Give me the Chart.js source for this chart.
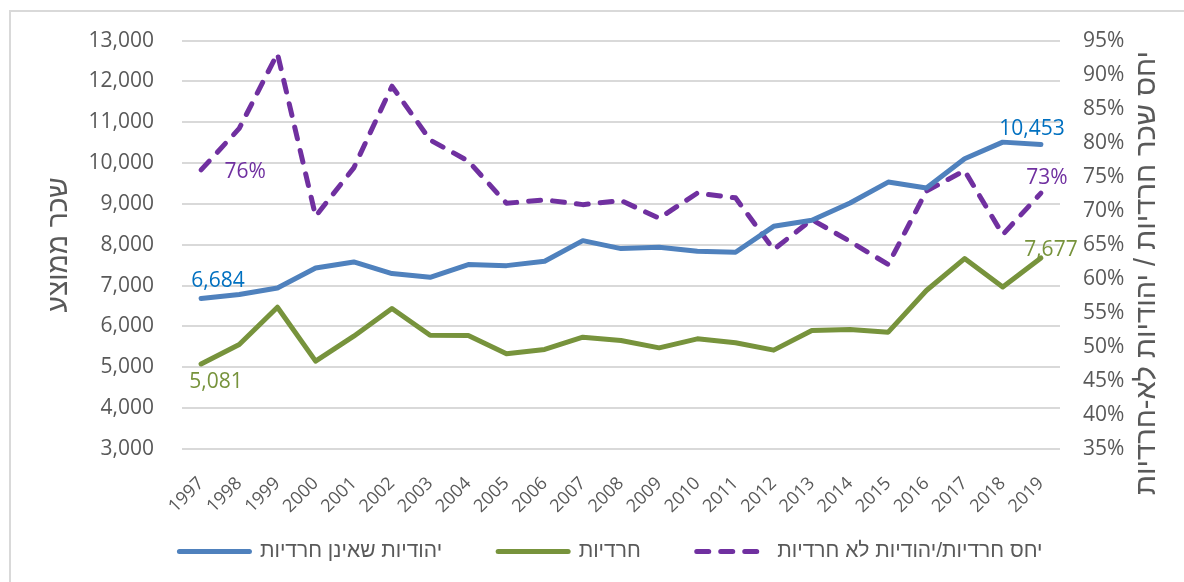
<!DOCTYPE html>
<html lang="he">
<head>
<meta charset="utf-8">
<script src="https://cdn.jsdelivr.net/npm/chart.js@4"></script>
<style>
  body { margin: 0; background: #fff; }
</style>
</head>
<body>
<canvas id="wageChart" width="1184" height="582"></canvas>
<script>
const years = ['1997','1998','1999','2000','2001','2002','2003','2004','2005','2006','2007','2008',
  '2009','2010','2011','2012','2013','2014','2015','2016','2017','2018','2019'];

// average wage, non-haredi jewish women (NIS)
const nonHarediWage = [6684, 6782, 6944, 7433, 7580, 7295, 7205, 7515, 7490, 7597, 8102, 7907,
  7939, 7841, 7817, 8452, 8599, 9022, 9536, 9389, 10108, 10514, 10453];

// average wage, haredi women (NIS)
const harediWage = [5081, 5560, 6472, 5152, 5763, 6440, 5787, 5780, 5330, 5437, 5738, 5657,
  5477, 5697, 5600, 5421, 5902, 5926, 5861, 6880, 7662, 6968, 7677];

// ratio haredi / non-haredi (%)
const wageRatio = [76.0, 82.1, 93.1, 69.2, 76.3, 88.3, 80.4, 77.3, 71.1, 71.6, 70.9, 71.5,
  68.9, 72.6, 71.9, 64.3, 68.7, 65.5, 62.1, 72.9, 75.9, 66.5, 72.6];

const wageTicks = { min: 3000, max: 13000, step: 1000 };
const ratioTicks = { min: 35, max: 95, step: 5 };

const seriesNames = ['יהודיות שאינן חרדיות', 'חרדיות', 'יחס חרדיות/יהודיות לא חרדיות'];
const leftTitle = 'שכר ממוצע';
const rightTitle = 'יחס שכר חרדיות / יהודיות לא-חרדיות';

const BLUE = '#4F81BD', GREEN = '#77933C', PURPLE = '#7030A0';
const TEXT = '#595959';
const FONT = '"Open Sans", "Liberation Sans", sans-serif';
const HEB_FONT = '"Liberation Sans", "DejaVu Sans", sans-serif';

const fmtWage = v => v.toLocaleString('en-US');
const fmtPct = v => Math.round(v) + '%';

// which points get a value label, and where it sits relative to the point
const pointLabels = [
  { ds: 0, i: 0, color: '#0070C0', dx: 17, dy: -18, fmt: fmtWage },
  { ds: 0, i: 22, color: '#0070C0', dx: -9, dy: -16, fmt: fmtWage },
  { ds: 1, i: 0, color: GREEN, dx: 15, dy: 18, fmt: fmtWage },
  { ds: 1, i: 22, color: GREEN, dx: 10, dy: -8, fmt: fmtWage },
  { ds: 2, i: 0, color: PURPLE, dx: 44, dy: 2, fmt: fmtPct },
  { ds: 2, i: 22, color: PURPLE, dx: 6, dy: -15, fmt: fmtPct }
];

const extras = {
  id: 'extras',
  afterLayout(chart) {
    // x labels need more room than the box we gave the axis (labels are clipped to it)
    chart.scales.x.bottom += 45;
    // legend padding is big for the horizontal gaps, nudge it back up
    chart.legend.top -= 10;
    chart.legend.bottom -= 10;
  },
  beforeDraw(chart) {
    const ctx = chart.ctx;
    ctx.save();
    ctx.strokeStyle = '#d9d9d9';
    ctx.lineWidth = 2;
    ctx.strokeRect(10, 11, 1200, 600);
    ctx.restore();
  },
  afterDatasetsDraw(chart) {
    const ctx = chart.ctx;
    ctx.save();
    ctx.font = '21px ' + FONT;
    ctx.textAlign = 'center';
    ctx.textBaseline = 'middle';
    pointLabels.forEach(l => {
      const pt = chart.getDatasetMeta(l.ds).data[l.i];
      const val = chart.data.datasets[l.ds].data[l.i];
      ctx.fillStyle = l.color;
      ctx.fillText(l.fmt(val), pt.x + l.dx, pt.y + l.dy);
    });
    ctx.restore();
  },
  afterDraw(chart) {
    const ctx = chart.ctx;
    const area = chart.chartArea;
    const midY = (area.top + area.bottom) / 2;
    ctx.save();
    ctx.fillStyle = TEXT;
    ctx.font = '28px ' + HEB_FONT;
    ctx.textAlign = 'center';
    ctx.textBaseline = 'middle';
    ctx.translate(59, midY);
    ctx.rotate(-Math.PI / 2);
    ctx.fillText(leftTitle, 0, 0);
    ctx.restore();

    ctx.save();
    ctx.fillStyle = TEXT;
    ctx.font = '29px ' + HEB_FONT;
    ctx.textAlign = 'center';
    ctx.textBaseline = 'middle';
    ctx.translate(1147, 273);
    ctx.rotate(-Math.PI / 2);
    ctx.fillText(rightTitle, 0, 0);
    ctx.restore();
  }
};

new Chart(document.getElementById('wageChart'), {
  type: 'line',
  data: {
    labels: years,
    datasets: [
      {
        label: seriesNames[0], data: nonHarediWage, yAxisID: 'y',
        borderColor: BLUE, backgroundColor: BLUE, borderWidth: 5,
        pointRadius: 0, borderJoinStyle: 'round', borderCapStyle: 'round', tension: 0
      },
      {
        label: seriesNames[1], data: harediWage, yAxisID: 'y',
        borderColor: GREEN, backgroundColor: GREEN, borderWidth: 5,
        pointRadius: 0, borderJoinStyle: 'round', borderCapStyle: 'round', tension: 0
      },
      {
        label: seriesNames[2], data: wageRatio, yAxisID: 'y1',
        borderColor: PURPLE, backgroundColor: PURPLE, borderWidth: 5,
        borderDash: [12, 12], pointRadius: 0, borderJoinStyle: 'round', borderCapStyle: 'round', tension: 0
      }
    ]
  },
  options: {
    responsive: false,
    animation: false,
    layout: { padding: { left: 38, right: 0, top: 39, bottom: 0 } },
    plugins: {
      legend: {
        position: 'bottom',
        labels: {
          color: TEXT,
          font: { family: HEB_FONT, size: 21 },
          usePointStyle: true,
          pointStyleWidth: 70,
          padding: 56,
          generateLabels(chart) {
            return chart.data.datasets.map((ds, i) => ({
              text: ds.label,
              datasetIndex: i,
              pointStyle: 'line',
              strokeStyle: ds.borderColor,
              fillStyle: ds.borderColor,
              lineWidth: 5,
              lineCap: 'round',
              lineDash: ds.borderDash || [],
              fontColor: TEXT
            }));
          }
        }
      },
      tooltip: { enabled: false }
    },
    scales: {
      x: {
        offset: true,
        grid: { display: false },
        border: { display: false },
        ticks: {
          color: TEXT, font: { family: FONT, size: 18 },
          maxRotation: 45, minRotation: 45, autoSkip: false, padding: 16
        },
        afterFit(scale) { scale.height = 46; }
      },
      y: {
        position: 'left',
        min: wageTicks.min, max: wageTicks.max,
        grid: { color: '#d9d9d9', lineWidth: 2, drawTicks: false },
        border: { display: false },
        ticks: {
          stepSize: wageTicks.step, color: TEXT, padding: 28,
          font: { family: FONT, size: 21 },
          callback: v => fmtWage(v)
        },
        afterFit(scale) { scale.width = 144; }
      },
      y1: {
        position: 'right',
        min: ratioTicks.min, max: ratioTicks.max,
        grid: { display: false, drawTicks: false },
        border: { display: false },
        ticks: {
          stepSize: ratioTicks.step, color: TEXT, padding: 23,
          font: { family: FONT, size: 21 },
          callback: v => Math.round(v) + '%'
        },
        afterFit(scale) { scale.width = 124; }
      }
    }
  },
  plugins: [extras]
});
</script>
</body>
</html>
